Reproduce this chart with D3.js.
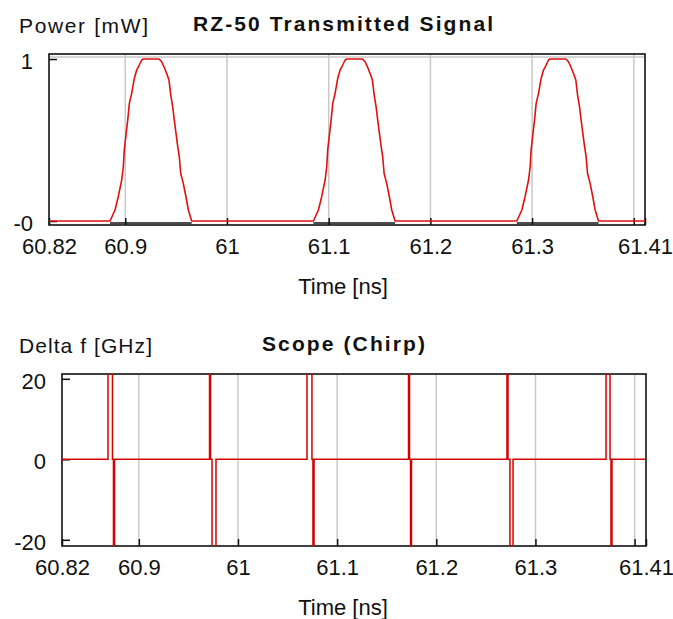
<!DOCTYPE html>
<html>
<head>
<meta charset="utf-8">
<script src="https://cdn.jsdelivr.net/npm/d3@7"></script>
<style>
  body { margin: 0; background: #fff; }
  text { font-family: "Liberation Sans", Arial, sans-serif; fill: #111; }
</style>
</head>
<body>
<script>
// ---- data ----
// x ticks (both panels)
const xTickVals = [60.9, 61.0, 61.1, 61.2, 61.3, 61.4];
const xTickLabels = ["60.9", "61", "61.1", "61.2", "61.3", ""];
const xEndLabels = ["60.82", "61.41"];

// power panel
const powerDomainX = [60.825, 61.411];
const powerTicks = [0, 1];
const powerTickLabels = ["-0", "1"];
const pulse1Time = [60.8850, 60.8899, 60.8931, 60.8965, 60.8981, 60.8990, 60.9007, 60.9024, 60.9040, 60.9063,
                    60.9089, 60.9112, 60.9138, 60.9162, 60.9177, 60.9332, 60.9358, 60.9381, 60.9407, 60.9430,
                    60.9447, 60.9466, 60.9482, 60.9499, 60.9516, 60.9531, 60.9545, 60.9571, 60.9597, 60.9620, 60.9653];
const pulse2Time = [61.0850, 61.0899, 61.0931, 61.0965, 61.0981, 61.0990, 61.1007, 61.1024, 61.1040, 61.1063,
                    61.1089, 61.1112, 61.1138, 61.1162, 61.1177, 61.1332, 61.1358, 61.1381, 61.1407, 61.1430,
                    61.1447, 61.1466, 61.1482, 61.1499, 61.1516, 61.1531, 61.1545, 61.1571, 61.1597, 61.1620, 61.1653];
const pulse3Time = [61.2850, 61.2899, 61.2931, 61.2965, 61.2981, 61.2990, 61.3007, 61.3024, 61.3040, 61.3063,
                    61.3089, 61.3112, 61.3138, 61.3162, 61.3177, 61.3332, 61.3358, 61.3381, 61.3407, 61.3430,
                    61.3447, 61.3466, 61.3482, 61.3499, 61.3516, 61.3531, 61.3545, 61.3571, 61.3597, 61.3620, 61.3653];
const pulsePower = [0, 0.068, 0.150, 0.253, 0.335, 0.438, 0.531, 0.623, 0.726, 0.788,
                    0.880, 0.932, 0.963, 0.994, 1.0, 1.0, 0.983, 0.952, 0.911, 0.870,
                    0.778, 0.706, 0.623, 0.541, 0.459, 0.397, 0.293, 0.231, 0.148, 0.068, 0];
// dark trace under each pulse
const darkSegStart = [60.8850, 61.0850, 61.2850];
const darkSegEnd = [60.9653, 61.1653, 61.3653];
const darkSegLevel = -0.0123;

// chirp panel
const chirpDomainX = [60.8225, 61.4115];
const chirpTicks = [-20, 0, 20];
const chirpTickLabels = ["-20", "0", "20"];
const chirpTime = [60.8225,
  60.8689, 60.8689, 60.8734, 60.8734, 60.8744, 60.8744, 60.8755, 60.8755,
  60.9713, 60.9713, 60.9723, 60.9723, 60.9738, 60.9738, 60.9778, 60.9778,
  61.0696, 61.0696, 61.0746, 61.0746, 61.0756, 61.0756, 61.0767, 61.0767,
  61.1720, 61.1720, 61.1730, 61.1730, 61.1740, 61.1740, 61.1750, 61.1750,
  61.2713, 61.2713, 61.2723, 61.2723, 61.2743, 61.2743, 61.2774, 61.2774,
  61.3712, 61.3712, 61.3752, 61.3752, 61.3762, 61.3762, 61.3772, 61.3772,
  61.4115];
const chirpFreq = [0,
  0, 60, 60, 0, 0, -60, -60, 0,
  0, 60, 60, 0, 0, -60, -60, 0,
  0, 60, 60, 0, 0, -60, -60, 0,
  0, 60, 60, 0, 0, -60, -60, 0,
  0, 60, 60, 0, 0, -60, -60, 0,
  0, 60, 60, 0, 0, -60, -60, 0,
  0];

// ---- drawing ----
const svg = d3.select("body").append("svg")
    .attr("width", 673)
    .attr("height", 619);

function drawPanel(p) {
  const x = d3.scaleLinear().domain(p.domainX).range([p.left, p.right]);
  const y = d3.scaleLinear().domain(p.domainY).range([p.bottom, p.top]);
  const g = svg.append("g");

  // grid
  g.append("g").selectAll("line").data(xTickVals).enter().append("line")
    .attr("x1", d => x(d)).attr("x2", d => x(d))
    .attr("y1", p.top).attr("y2", p.bottom)
    .attr("stroke", "#c8c8c8").attr("stroke-width", 1.5);
  if (p.hGrid) {
    g.append("g").selectAll("line").data(p.hGrid).enter().append("line")
      .attr("x1", p.left).attr("x2", p.right)
      .attr("y1", d => y(d)).attr("y2", d => y(d))
      .attr("stroke", "#c8c8c8").attr("stroke-width", 1.5);
  }

  // x axis (inward ticks)
  const xAxis = d3.axisBottom(x)
    .tickValues([p.domainX[0], ...xTickVals, p.domainX[1]])
    .tickFormat((d, i) => i === 0 ? xEndLabels[0] : (i === xTickVals.length + 1 ? xEndLabels[1] : xTickLabels[i - 1]))
    .tickSize(-7)
    .tickPadding(13);
  const gx = g.append("g").attr("transform", `translate(0,${p.bottom})`).call(xAxis);
  gx.select(".domain").remove();
  gx.selectAll("line").attr("stroke", "#111").attr("stroke-width", 1.5);
  gx.selectAll("text").attr("font-size", 22).attr("fill", "#111")
    .style("font-family", '"Liberation Sans", Arial, sans-serif');

  // y axis
  const yAxis = d3.axisLeft(y)
    .tickValues(p.yTicks)
    .tickFormat((d, i) => p.yTickLabels[i])
    .tickSize(-8)
    .tickPadding(p.yPad);
  const gy = g.append("g").attr("transform", `translate(${p.left},0)`).call(yAxis);
  gy.select(".domain").remove();
  gy.selectAll("line").attr("stroke", "#111").attr("stroke-width", 1.5);
  gy.selectAll("text").attr("font-size", 22).attr("fill", "#111").attr("dy", "0.42em")
    .style("font-family", '"Liberation Sans", Arial, sans-serif');

  // frame
  g.append("rect")
    .attr("x", p.left).attr("y", p.top)
    .attr("width", p.right - p.left).attr("height", p.bottom - p.top)
    .attr("fill", "none").attr("stroke", "#111").attr("stroke-width", 1.6);

  // labels
  g.append("text").attr("x", 19).attr("y", p.top - 21)
    .attr("font-size", 21).attr("textLength", p.yLabelLen).attr("lengthAdjust", "spacing")
    .text(p.yLabel);
  g.append("text").attr("x", p.titleX).attr("y", p.top - 23)
    .attr("font-size", 21).attr("font-weight", "bold")
    .attr("textLength", p.titleLen).attr("lengthAdjust", "spacing")
    .text(p.title);
  g.append("text").attr("x", 343).attr("y", p.bottom + 69)
    .attr("text-anchor", "middle").attr("font-size", 22)
    .text("Time [ns]");

  return {x, y, g};
}

// power panel
const powerPanel = drawPanel({
  left: 49, right: 645, top: 54, bottom: 225,
  domainX: powerDomainX, domainY: [-0.0247, 1.031],
  yTicks: powerTicks, yTickLabels: powerTickLabels, yPad: 16,
  hGrid: [1.012],
  yLabel: "Power [mW]", yLabelLen: 129,
  title: "RZ-50 Transmitted Signal", titleX: 193, titleLen: 300
});

const powerLine = d3.line().x(d => powerPanel.x(d[0])).y(d => powerPanel.y(d[1]));
const pulses = [pulse1Time, pulse2Time, pulse3Time];
const powerSeries = [[powerDomainX[0], 0]];
pulses.forEach(times => times.forEach((t, i) => powerSeries.push([t, pulsePower[i]])));
powerSeries.push([powerDomainX[1], 0]);

powerPanel.g.append("g").selectAll("line").data(darkSegStart).enter().append("line")
  .attr("x1", d => powerPanel.x(d)).attr("x2", (d, i) => powerPanel.x(darkSegEnd[i]))
  .attr("y1", powerPanel.y(darkSegLevel)).attr("y2", powerPanel.y(darkSegLevel))
  .attr("stroke", "#111").attr("stroke-width", 1.6);

powerPanel.g.append("path")
  .attr("d", powerLine(powerSeries))
  .attr("fill", "none")
  .attr("stroke", "#e01010")
  .attr("stroke-width", 1.6)
  .attr("stroke-linejoin", "round");

// chirp panel
const chirpPanel = drawPanel({
  left: 62, right: 646, top: 374, bottom: 546,
  domainX: chirpDomainX, domainY: [-21.54, 21.19],
  yTicks: chirpTicks, yTickLabels: chirpTickLabels, yPad: 16,
  hGrid: null,
  yLabel: "Delta f [GHz]", yLabelLen: 133,
  title: "Scope (Chirp)", titleX: 262, titleLen: 163
});

svg.append("clipPath").attr("id", "chirpClip")
  .append("rect").attr("x", 62).attr("y", 374).attr("width", 584).attr("height", 172);

const chirpLine = d3.line().x(d => chirpPanel.x(d[0])).y(d => chirpPanel.y(d[1]));
chirpPanel.g.append("path")
  .attr("clip-path", "url(#chirpClip)")
  .attr("d", chirpLine(chirpTime.map((t, i) => [t, chirpFreq[i]])))
  .attr("fill", "none")
  .attr("stroke", "#d40000")
  .attr("stroke-width", 1.5);
</script>
</body>
</html>
